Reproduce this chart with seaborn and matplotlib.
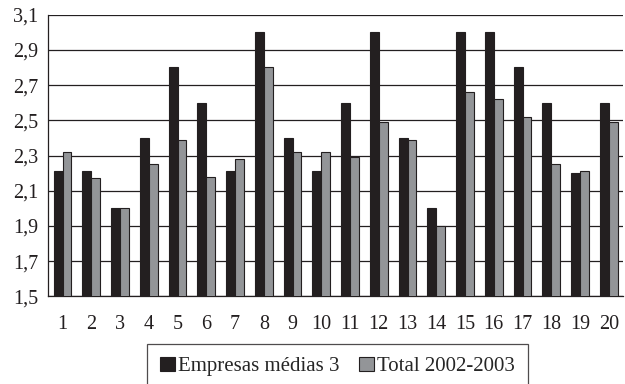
import numpy as np
import pandas as pd
import seaborn as sns
import matplotlib.pyplot as plt
from matplotlib.ticker import FixedLocator

categories = [str(i) for i in range(1, 21)]
empresas_medias = [2.21, 2.21, 2.00, 2.40, 2.80, 2.60, 2.21, 3.00, 2.40, 2.21,
                   2.60, 3.00, 2.40, 2.00, 3.00, 3.00, 2.80, 2.60, 2.20, 2.60]
total_2002_2003 = [2.32, 2.17, 2.00, 2.25, 2.39, 2.18, 2.28, 2.80, 2.32, 2.32,
                   2.29, 2.49, 2.39, 1.90, 2.66, 2.62, 2.52, 2.25, 2.21, 2.49]
series_names = ['Empresas médias 3', 'Total 2002-2003']
yticks = [1.5, 1.7, 1.9, 2.1, 2.3, 2.5, 2.7, 2.9, 3.1]

df = pd.DataFrame({
    'cat': categories * 2,
    'valor': empresas_medias + total_2002_2003,
    'serie': [series_names[0]] * 20 + [series_names[1]] * 20,
})

sns.set_style('white')
plt.rcParams['font.family'] = ['Liberation Serif', 'DejaVu Serif']

fig, ax = plt.subplots(figsize=(6.25, 3.84), dpi=100)
fig.subplots_adjust(left=0.077, right=0.997, top=0.962, bottom=0.228)

palette = {series_names[0]: '#231f20', series_names[1]: '#939598'}
sns.barplot(data=df, x='cat', y='valor', hue='serie', palette=palette,
            width=0.62, edgecolor='#231f20', linewidth=0.8, saturation=1,
            ax=ax, zorder=3)

ax.set_ylim(1.5, 3.1)
ax.set_xlim(-0.5, 19.5)
ax.set_yticks(yticks)
ax.set_yticklabels([f'{t:.1f}'.replace('.', ',') for t in yticks])
ax.yaxis.grid(True, color='#231f20', linewidth=0.9, zorder=0)
ax.set_axisbelow(True)
ax.set_xlabel('')
ax.set_ylabel('')

# ticks between the categories, labels centred under the bars
ax.xaxis.set_minor_locator(FixedLocator(np.arange(-0.5, 20, 1)))
ax.tick_params(axis='x', which='major', length=0, pad=13, labelsize=14.5, colors='#231f20')
ax.tick_params(axis='x', which='minor', length=5, width=0.9, color='#231f20', direction='out')
ax.tick_params(axis='y', which='major', length=4, width=0.9, color='#231f20',
               direction='out', labelsize=14.5, labelcolor='#231f20', pad=3)

for s in ['top', 'right']:
    ax.spines[s].set_visible(False)
for s in ['left', 'bottom']:
    ax.spines[s].set_color('#231f20')
    ax.spines[s].set_linewidth(0.9)

leg = ax.legend(loc='upper center', bbox_to_anchor=(0.54, 0.104), bbox_transform=fig.transFigure,
                ncol=2, frameon=True, fancybox=False, fontsize=15, handlelength=0.72,
                handleheight=0.72, handletextpad=0.15, columnspacing=0.95,
                borderpad=0.6, borderaxespad=0)
leg.get_frame().set_edgecolor('#231f20')
leg.get_frame().set_linewidth(0.9)
for h in leg.legend_handles:
    h.set_edgecolor('#231f20')

fig.savefig('out.png', dpi=100)
